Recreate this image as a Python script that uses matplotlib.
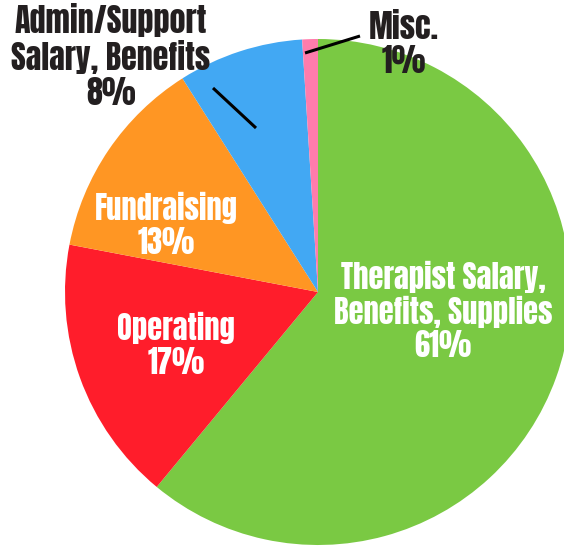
import matplotlib
matplotlib.use("Agg")
import matplotlib.pyplot as plt

FONT = ["Anton", "Oswald", "DejaVu Sans"]

categories = ["Therapist Salary,\nBenefits, Supplies", "Operating", "Fundraising",
              "Admin/Support\nSalary, Benefits", "Misc."]
values = [61, 17, 13, 8, 1]
colors = ["#7AC943", "#FF1D2B", "#FF9623", "#42A8F3", "#FF7CAC"]

W, H = 564, 547
CX, CY, R = 318, 292, 253

fig = plt.figure(figsize=(W / 100, H / 100), dpi=100)
ax = fig.add_axes([0, 0, 1, 1])
ax.pie(values, colors=colors, startangle=90, counterclock=False,
       wedgeprops=dict(linewidth=0), radius=1)
ax.set_xlim(-CX / R, (W - CX) / R)
ax.set_ylim(-(H - CY) / R, CY / R)
ax.set_aspect("equal")
ax.axis("off")


def px(x, y):
    return ((x - CX) / R, (CY - y) / R)


label_pos = [(443, 311), (176, 345), (166, 225), (111, 56), (404, 44)]
label_col = ["white", "white", "white", "#231F20", "#231F20"]
label_size = [22, 22, 22, 23, 23]
for cat, v, pos, c, s in zip(categories, values, label_pos, label_col, label_size):
    ax.text(*px(*pos), f"{cat}\n{v}%", ha="center", va="center", color=c,
            fontsize=s, family=FONT, linespacing=1.1)

# leader lines
for (a, b) in [((213, 88), (256, 128)), ((305, 53), (360, 36))]:
    (x0, y0), (x1, y1) = px(*a), px(*b)
    ax.plot([x0, x1], [y0, y1], color="black", lw=2.2, solid_capstyle="butt")

fig.savefig("out.png", dpi=100)
